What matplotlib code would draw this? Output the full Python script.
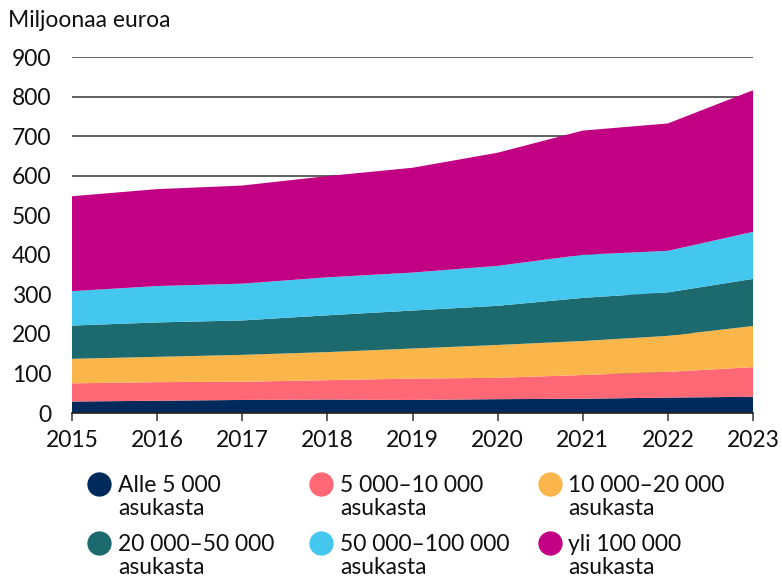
import matplotlib.pyplot as plt
from matplotlib.lines import Line2D

# Data (millions of euros)
years = [2015, 2016, 2017, 2018, 2019, 2020, 2021, 2022, 2023]
alle_5000 = [29, 31, 33, 34, 33, 35, 36, 39, 41]
k5_10 = [46, 47, 46, 49, 54, 54, 60, 65, 75]
k10_20 = [62, 64, 68, 71, 76, 83, 86, 91, 104]
k20_50 = [84, 87, 87, 93, 96, 99, 109, 110, 119]
k50_100 = [87, 92, 93, 96, 96, 101, 109, 105, 119]
yli_100 = [240, 245, 248, 256, 265, 286, 314, 322, 358]

labels = [
    ("Alle 5 000", "asukasta"),
    ("5 000–10 000", "asukasta"),
    ("10 000–20 000", "asukasta"),
    ("20 000–50 000", "asukasta"),
    ("50 000–100 000", "asukasta"),
    ("yli 100 000", "asukasta"),
]
colors = ["#002a5c", "#ff6874", "#fbb64b", "#1c6a6e", "#44c7ef", "#c20083"]

yticks = [0, 100, 200, 300, 400, 500, 600, 700, 800, 900]

plt.rcParams['font.family'] = ['Lato', 'DejaVu Sans']

W, H = 782, 579
fig = plt.figure(figsize=(W / 100, H / 100), dpi=100)
ax = fig.add_axes([72 / W, 1 - 413 / H, (753 - 72) / W, (413 - 57) / H])

ax.stackplot(years, alle_5000, k5_10, k10_20, k20_50, k50_100, yli_100,
             colors=colors, linewidth=0, zorder=2)

ax.set_xlim(2015, 2023)
ax.set_ylim(0, 900)
ax.set_xticks(years)
ax.set_yticks(yticks)
ax.grid(axis='y', color='#333333', linewidth=1.1, zorder=0)
ax.set_axisbelow(True)

for side in ['left', 'right', 'top']:
    ax.spines[side].set_visible(False)
ax.spines['bottom'].set_color('#222222')
ax.spines['bottom'].set_linewidth(1.2)
ax.spines['bottom'].set_zorder(3)

ax.tick_params(axis='y', length=0, pad=15, labelsize=16.5, colors='#111111')
ax.tick_params(axis='x', length=6, width=1.2, color='#444444', pad=6,
               labelsize=16.5, labelcolor='#111111')
for lbl in ax.get_yticklabels():
    lbl.set_horizontalalignment('right')

fig.text(8 / W, 1 - 27 / H, "Miljoonaa euroa", fontsize=16.5,
         va='baseline', ha='left', color='#111111')

# Legend, 3 columns x 2 rows, drawn by hand so the dot lines up with line 1
dot_x = [99, 321, 550]
text_x = [118, 340, 568]
row_y = [484, 543]
for i, (l1, l2) in enumerate(labels):
    r, c = divmod(i, 3)
    yy = row_y[r]
    fig.add_artist(Line2D([dot_x[c] / W], [1 - yy / H], marker='o',
                          markersize=16.5, color=colors[i], linestyle='none',
                          transform=fig.transFigure))
    fig.text(text_x[c] / W, 1 - (yy + 8) / H, l1, fontsize=16.5,
             va='baseline', ha='left', color='#111111')
    fig.text(text_x[c] / W, 1 - (yy + 31) / H, l2, fontsize=16.5,
             va='baseline', ha='left', color='#111111')

fig.savefig("out.png", dpi=100)
